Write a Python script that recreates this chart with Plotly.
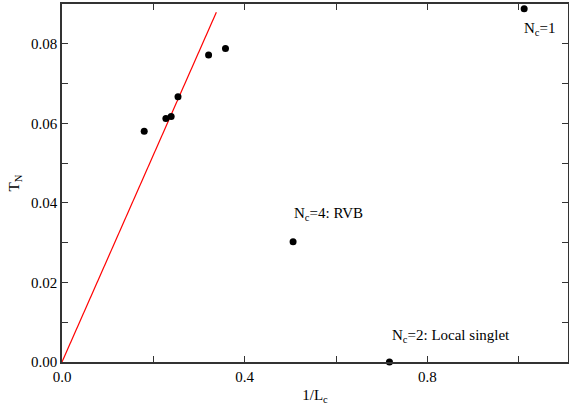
import plotly.graph_objects as go

inv_lc = [0.180, 0.2275, 0.239, 0.254, 0.321, 0.358, 0.506, 0.717, 1.012]
t_n = [0.0580, 0.0612, 0.0617, 0.0667, 0.0772, 0.0788, 0.0302, 0.0, 0.0888]

fit_x = [0.0, 0.338]
fit_y = [0.0, 0.0879]

labels = ["N<sub>c</sub>=1", "N<sub>c</sub>=4: RVB", "N<sub>c</sub>=2: Local singlet"]
label_x = [1.008, 0.504, 0.719]
label_y = [0.0836, 0.0371, 0.0066]

font = "Liberation Serif, Times New Roman, serif"

fig = go.Figure()
fig.add_trace(go.Scatter(x=fit_x, y=fit_y, mode="lines",
                         line=dict(color="red", width=1.2), showlegend=False))
fig.add_trace(go.Scatter(x=inv_lc, y=t_n, mode="markers",
                         marker=dict(color="black", size=7), showlegend=False,
                         cliponaxis=False))
for t, x, y in zip(labels, label_x, label_y):
    fig.add_annotation(x=x, y=y, text=t, showarrow=False, xanchor="left",
                       yanchor="middle", font=dict(family=font, size=15, color="black"))

axis_common = dict(showline=True, linecolor="#333", linewidth=1.5, mirror="allticks",
                   ticks="inside", ticklen=6, tickcolor="#333", tickwidth=1.2,
                   showgrid=False, zeroline=False, automargin=False,
                   tickfont=dict(family=font, size=15, color="black"))
fig.update_xaxes(range=[0, 1.108], tickvals=[0, 0.4, 0.8], ticktext=["0.0", "0.4", "0.8"],
                 minor=dict(tickvals=[0.2, 0.6, 1.0], ticks="inside", ticklen=6, tickcolor="#333"),
                 title=dict(text="1/L<sub>c</sub>", font=dict(family=font, size=15, color="black"), standoff=6),
                 **axis_common)
fig.update_yaxes(range=[0, 0.09], tickvals=[0, 0.02, 0.04, 0.06, 0.08],
                 ticktext=["0.00", "0.02", "0.04", "0.06", "0.08"],
                 minor=dict(tickvals=[0.01, 0.03, 0.05, 0.07], ticks="inside", ticklen=6, tickcolor="#333"),
                 title=dict(text="T<sub>N</sub>", font=dict(family=font, size=15, color="black"), standoff=8),
                 **axis_common)
fig.update_layout(width=569, height=406, margin=dict(l=62, r=1, t=4, b=44),
                  plot_bgcolor="white", paper_bgcolor="white")
fig.write_html("out.html", config={"displayModeBar": False},
               post_script="document.body.style.margin='0';document.body.style.overflow='hidden';")
